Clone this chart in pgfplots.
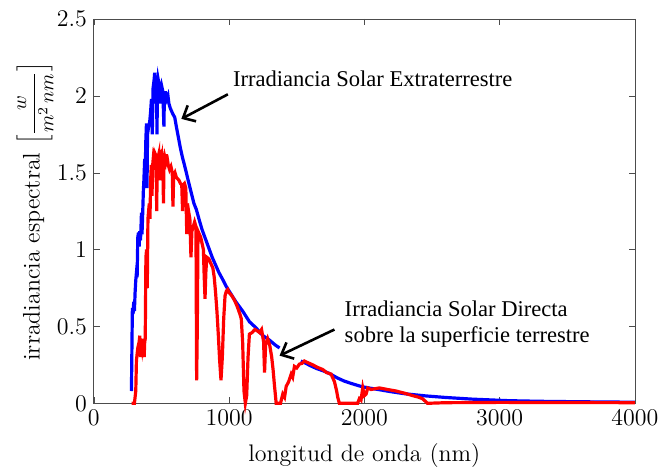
\documentclass[border=0pt]{standalone}
\usepackage{fontspec}
\newfontfamily\timesfont{Liberation Serif}
\usepackage{pgfplots}
\pgfplotsset{compat=1.18}
\usetikzlibrary{arrows.meta}

\begin{document}
\begin{tikzpicture}
\begin{axis}[
  scale only axis,
  width=271pt, height=192.5pt,
  xmin=0, xmax=4000, ymin=0, ymax=2.5,
  xtick={0,1000,2000,3000,4000},
  ytick={0,0.5,1,1.5,2,2.5},
  scaled x ticks=false,
  /pgf/number format/1000 sep={},
  tick align=inside,
  major tick length=3pt,
  axis line style={black!70},
  tick style={black!70},
  ticklabel style={font=\large},
  label style={font=\large},
  xlabel={longitud de onda (nm)},
  xlabel style={yshift=-2pt},
  ylabel={irradiancia espectral {\normalsize$\left[\displaystyle\frac{w}{m^2\,nm}\right]$}},
  ylabel style={at={(axis description cs:0,0.5)}, anchor=center, yshift=29.5pt},
  unbounded coords=jump,
  clip=false,
]
% extraterrestre
\addplot[blue, line width=1.6pt] coordinates {
(278,0.08) (282,0.40) (285,0.62) (290,0.58) (295,0.66) (300,0.60) (305,0.72)
(310,0.80) (315,0.85) (320,0.82) (325,1.08) (330,1.11) (335,1.02) (340,1.12)
(345,1.06) (350,1.18) (352,1.24) (356,1.10) (360,1.20) (366,1.38) (370,1.45)
(376,1.59) (380,1.50) (384,1.70) (389,1.82) (393,1.40) (397,1.75) (405,1.80)
(413,1.83) (420,1.90) (426,1.98) (432,1.75) (438,2.05) (445,2.10) (450,2.15)
(456,2.05) (463,2.09) (467,1.75) (470,2.05) (475,2.11) (485,2.06) (490,1.95)
(495,2.05) (500,2.07) (510,2.03) (518,1.80) (522,2.02) (530,2.02) (540,1.98)
(548,2.00) (555,1.95) (565,1.92) (575,1.90) (585,1.88) (598,1.86) (610,1.80)
(625,1.73) (640,1.66) (655,1.60) (670,1.55) (684,1.50) (700,1.44) (720,1.37)
(740,1.30) (758,1.26) (780,1.19) (800,1.13) (825,1.07) (850,1.01) (875,0.95)
(900,0.90) (925,0.85) (950,0.81) (979,0.76) (1000,0.73) (1050,0.66)
(1100,0.60) (1151,0.53) (1200,0.49) (1250,0.44) (1300,0.41) (1340,0.38)
(1373,0.36) (1450,nan) (1530,0.275) (1557,0.265) (1600,0.245) (1650,0.225)
(1700,0.21) (1750,0.19) (1800,0.165) (1850,0.145) (1900,0.13) (1963,0.113)
(2000,0.105) (2100,0.09) (2200,0.075) (2300,0.062) (2455,0.048)
(2600,0.038) (2800,0.027) (3070,0.017) (3300,0.013) (3600,0.010)
(4000,0.007)
};
% directa
\addplot[red, line width=1.6pt] coordinates {
(280,0) (300,0) (310,0.08) (315,0.28) (325,0.36) (335,0.40) (340,0.44)
(345,0.30) (350,0.42) (358,0.36) (366,0.42) (372,0.30) (376,0.40) (380,0.42)
(385,0.95) (390,1.00) (395,0.75) (400,1.20) (405,1.25) (410,1.30) (415,1.20)
(420,1.45) (425,1.55) (430,1.35) (435,1.55) (440,1.60) (445,1.58) (450,1.63)
(455,1.62) (460,1.58) (465,1.25) (468,1.55) (475,1.60) (480,1.62) (485,1.45)
(490,1.58) (495,1.60) (500,1.57) (505,1.60) (510,1.55) (515,1.30) (518,1.55)
(525,1.60) (530,1.58) (535,1.62) (540,1.57) (545,1.58) (550,1.55) (560,1.52)
(570,1.54) (580,1.50) (585,1.28) (590,1.48) (600,1.50) (610,1.47) (620,1.46)
(630,1.45) (640,1.43) (650,1.42) (656,1.25) (660,1.42) (670,1.43) (680,1.40)
(687,1.10) (692,1.30) (700,1.25) (710,1.20) (718,0.95) (725,1.12) (735,1.15)
(745,1.18) (755,1.15) (760,0.15) (765,0.50) (770,1.12) (780,1.10) (790,1.08)
(800,1.04) (810,1.00) (815,0.85) (822,0.68) (828,0.85) (835,0.95) (850,0.94)
(860,0.92) (870,0.90) (880,0.88) (890,0.82) (900,0.72) (910,0.60) (920,0.45)
(930,0.28) (940,0.15) (950,0.30) (960,0.55) (970,0.70) (980,0.73) (990,0.74)
(1000,0.72) (1020,0.70) (1040,0.67) (1060,0.63) (1080,0.58) (1090,0.55)
(1100,0.40) (1110,0.08) (1120,0) (1130,0.05) (1140,0.30) (1150,0.45)
(1170,0.46) (1190,0.48) (1210,0.47) (1225,0.46) (1240,0.48) (1255,0.40)
(1262,0.20) (1270,0.38) (1285,0.42) (1300,0.38) (1315,0.30) (1325,0.22)
(1335,0.12) (1348,0) (1380,0) (1397,0.06) (1410,0.04) (1422,0.11)
(1440,0.14) (1459,0.19) (1470,0.17) (1483,0.24) (1500,0.23) (1520,0.255)
(1540,0.26) (1557,0.275) (1580,0.265) (1619,0.25) (1650,0.235) (1692,0.22)
(1720,0.20) (1754,0.19) (1779,0.14) (1795,0.08) (1803,0.04) (1815,0)
(1950,0) (1963,0.03) (1975,0.02) (1988,0.10) (2000,0.05) (2013,0.06)
(2025,0.10) (2049,0.09) (2080,0.095) (2111,0.10) (2170,0.09) (2234,0.08)
(2300,0.065) (2357,0.05) (2400,0.04) (2430,0.03) (2467,0) (2600,0.004)
(3000,0.006) (3500,0.005) (4000,0.004)
};
\node[anchor=west, inner sep=0pt, font=\timesfont\fontsize{11.3}{13.5}\selectfont]
  at (axis cs:1026,2.11) {Irradiancia Solar Extraterrestre};
\node[anchor=west, inner sep=0pt, align=left, font=\timesfont\fontsize{11.3}{13}\selectfont]
  at (axis cs:1852,0.515) {Irradiancia Solar Directa\\sobre la superficie terrestre};
\draw[line width=1.3pt, -{Straight Barb[length=5pt,width=9pt]}]
  (axis cs:991,2.01) -- (axis cs:647,1.85);
\draw[line width=1.3pt, -{Straight Barb[length=5pt,width=9pt]}]
  (axis cs:1779,0.48) -- (axis cs:1373,0.31);
\end{axis}
\path (current axis.south west) ++(-47pt,-33pt) rectangle ++(332.5pt,235pt);
\end{tikzpicture}
\end{document}
